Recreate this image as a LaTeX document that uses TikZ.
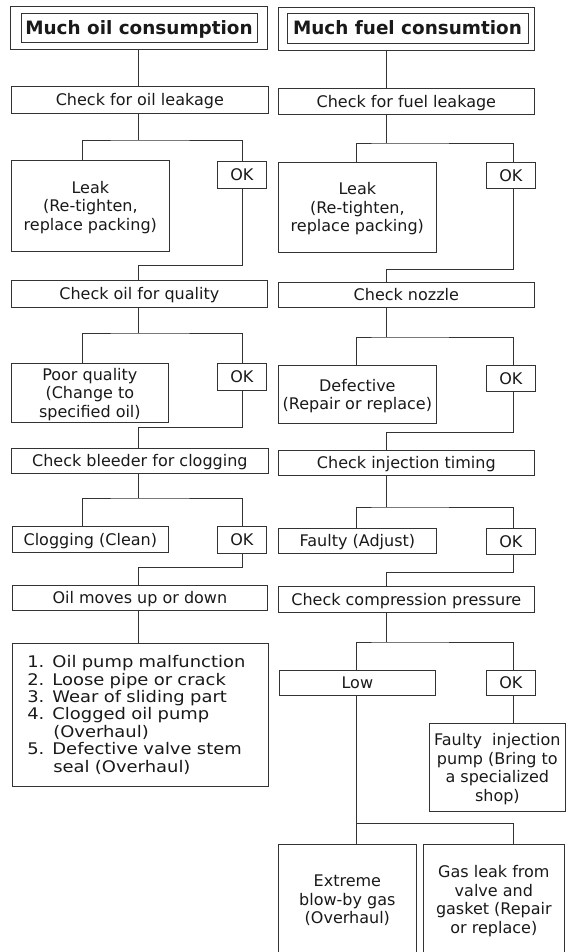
\documentclass[tikz,border=0pt]{standalone}
\usepackage{fontspec}
\setmainfont{DejaVu Sans}
\newfontfamily\listfont[FakeStretch=1.12]{DejaVu Sans}
\begin{document}
\begin{tikzpicture}[x=1pt,y=-1pt,
  bx/.style={draw=black!80, line width=0.7pt, inner sep=0pt, align=center, anchor=north west,
    font=\fontsize{16}{18.5}\selectfont, text=black!90, text depth=0pt},
  wh/.style 2 args={minimum width=#1pt, minimum height=#2pt},
  ttl/.style={draw=black!80, line width=0.7pt, inner sep=0pt, align=center,
    font=\fontsize{18.4}{20}\selectfont\bfseries, text=black!90, text depth=0pt},
  ln/.style={draw=black!80, line width=0.7pt}]
\useasboundingbox (0,0) rectangle (566,952);

% guide coordinates
\coordinate (mL) at (138,0);
\coordinate (aL) at (82,0);
\coordinate (bL) at (242,0);
\coordinate (mR) at (386,0);
\coordinate (aR) at (356,0);
\coordinate (bR) at (513,0);

% ---------------- left column ----------------
\node[bx, wh={257}{43}] (T1) at (10,6) {};
\node[ttl, wh={236}{29}] (T1i) at (139,27.5) {Much oil consumption};
\node[bx, wh={257}{27}] (C1) at (11,86) {Check for oil leakage};
\node[bx, wh={158}{91}] (L1) at (11,160) {Leak\\(Re-tighten,\\replace packing)};
\node[bx, wh={49}{27}] (K1) at (217,161) {OK};
\node[bx, wh={256}{27}] (C2) at (11,280) {Check oil for quality};
\node[bx, wh={157}{59}] (L2) at (11,363) {Poor quality\\(Change to\\specified oil)};
\node[bx, wh={49}{27}] (K2) at (217,363) {OK};
\node[bx, wh={257}{25}] (C3) at (11,448) {Check bleeder for clogging};
\node[bx, wh={156}{26}] (L3) at (12,526) {Clogging (Clean)};
\node[bx, wh={49}{27}] (K3) at (217,526) {OK};
\node[bx, wh={255}{25}] (C4) at (12,585) {Oil moves up or down};
\node[bx, wh={256}{143}, text width=226pt, align=left, text depth=,
  font=\listfont\fontsize{16}{17.4}\selectfont] (LS) at (12,643)
  {\makebox[218pt][s]{1. Oil pump malfunction}\\
   2. Loose pipe or crack\\
   3. Wear of sliding part\\
   4. Clogged oil pump\\
   \hspace*{26pt}(Overhaul)\\
   \makebox[225pt][s]{5. Defective valve stem}\\
   \hspace*{26pt}seal (Overhaul)};

\coordinate (jL1) at (138,140);
\coordinate (kL1) at (138,265);
\coordinate (jL2) at (138,333);
\coordinate (kL2) at (138,427);
\coordinate (jL3) at (138,498);
\coordinate (kL3) at (138,567);

\draw[ln] (T1.south -| mL) -- (C1.north -| mL);
\draw[ln] (C1.south -| mL) -- (jL1);
\draw[ln] (L1.north -| aL) |- (jL1) -| (K1.north -| bL);
\draw[ln] (K1.south -| bL) |- (kL1) -- (C2.north -| mL);
\draw[ln] (C2.south -| mL) -- (jL2);
\draw[ln] (L2.north -| aL) |- (jL2) -| (K2.north -| bL);
\draw[ln] (K2.south -| bL) |- (kL2) -- (C3.north -| mL);
\draw[ln] (C3.south -| mL) -- (jL3);
\draw[ln] (L3.north -| aL) |- (jL3) -| (K3.north -| bL);
\draw[ln] (K3.south -| bL) |- (kL3) -- (C4.north -| mL);
\draw[ln] (C4.south -| mL) -- (LS.north -| mL);

% ---------------- right column ----------------
\node[bx, wh={256}{43}] (T2) at (278,7) {};
\node[ttl, wh={241}{30}] (T2i) at (407.5,28) {Much fuel consumtion};
\node[bx, wh={256}{26}] (D1) at (278,88) {Check for fuel leakage};
\node[bx, wh={158}{90}] (E1) at (278,162) {Leak\\(Re-tighten,\\replace packing)};
\node[bx, wh={49}{26}] (F1) at (486,162) {OK};
\node[bx, wh={256}{25}] (D2) at (278,282) {Check nozzle};
\node[bx, wh={158}{58}] (E2) at (278,365) {Defective\\(Repair or replace)};
\node[bx, wh={49}{26}] (F2) at (486,365) {OK};
\node[bx, wh={256}{25}] (D3) at (278,450) {Check injection timing};
\node[bx, wh={158}{25}] (E3) at (278,528) {Faulty (Adjust)};
\node[bx, wh={49}{26}] (F3) at (486,528) {OK};
\node[bx, wh={256}{26}] (D4) at (278,586) {Check compression pressure};
\node[bx, wh={156}{25}] (E4) at (279,670) {Low};
\node[bx, wh={49}{25}] (F4) at (486,670) {OK};
\node[bx, wh={136}{88}] (G) at (429,723) {Faulty\ \ injection\\pump (Bring to\\a specialized\\shop)};
\node[bx, wh={138}{110}] (H1) at (278,844) {Extreme\\blow-by gas\\(Overhaul)};
\node[bx, wh={141}{110}] (H2) at (423,844) {Gas leak from\\valve and\\gasket (Repair\\or replace)};

\coordinate (jR1) at (386,143);
\coordinate (kR1) at (386,269);
\coordinate (jR2) at (386,337);
\coordinate (kR2) at (386,432);
\coordinate (jR3) at (386,507);
\coordinate (kR3) at (386,572);
\coordinate (jR4) at (386,642);
\coordinate (jR5) at (356,823);

\draw[ln] (T2.south -| mR) -- (D1.north -| mR);
\draw[ln] (D1.south -| mR) -- (jR1);
\draw[ln] (E1.north -| aR) |- (jR1) -| (F1.north -| bR);
\draw[ln] (F1.south -| bR) |- (kR1) -- (D2.north -| mR);
\draw[ln] (D2.south -| mR) -- (jR2);
\draw[ln] (E2.north -| aR) |- (jR2) -| (F2.north -| bR);
\draw[ln] (F2.south -| bR) |- (kR2) -- (D3.north -| mR);
\draw[ln] (D3.south -| mR) -- (jR3);
\draw[ln] (E3.north -| aR) |- (jR3) -| (F3.north -| bR);
\draw[ln] (F3.south -| bR) |- (kR3) -- (D4.north -| mR);
\draw[ln] (D4.south -| mR) -- (jR4);
\draw[ln] (E4.north -| aR) |- (jR4) -| (F4.north -| bR);
\draw[ln] (F4.south -| bR) -- (G.north -| bR);
\draw[ln] (E4.south -| aR) -- (H1.north -| aR);
\draw[ln] (H2.north -| bR) |- (jR5);
\end{tikzpicture}
\end{document}
